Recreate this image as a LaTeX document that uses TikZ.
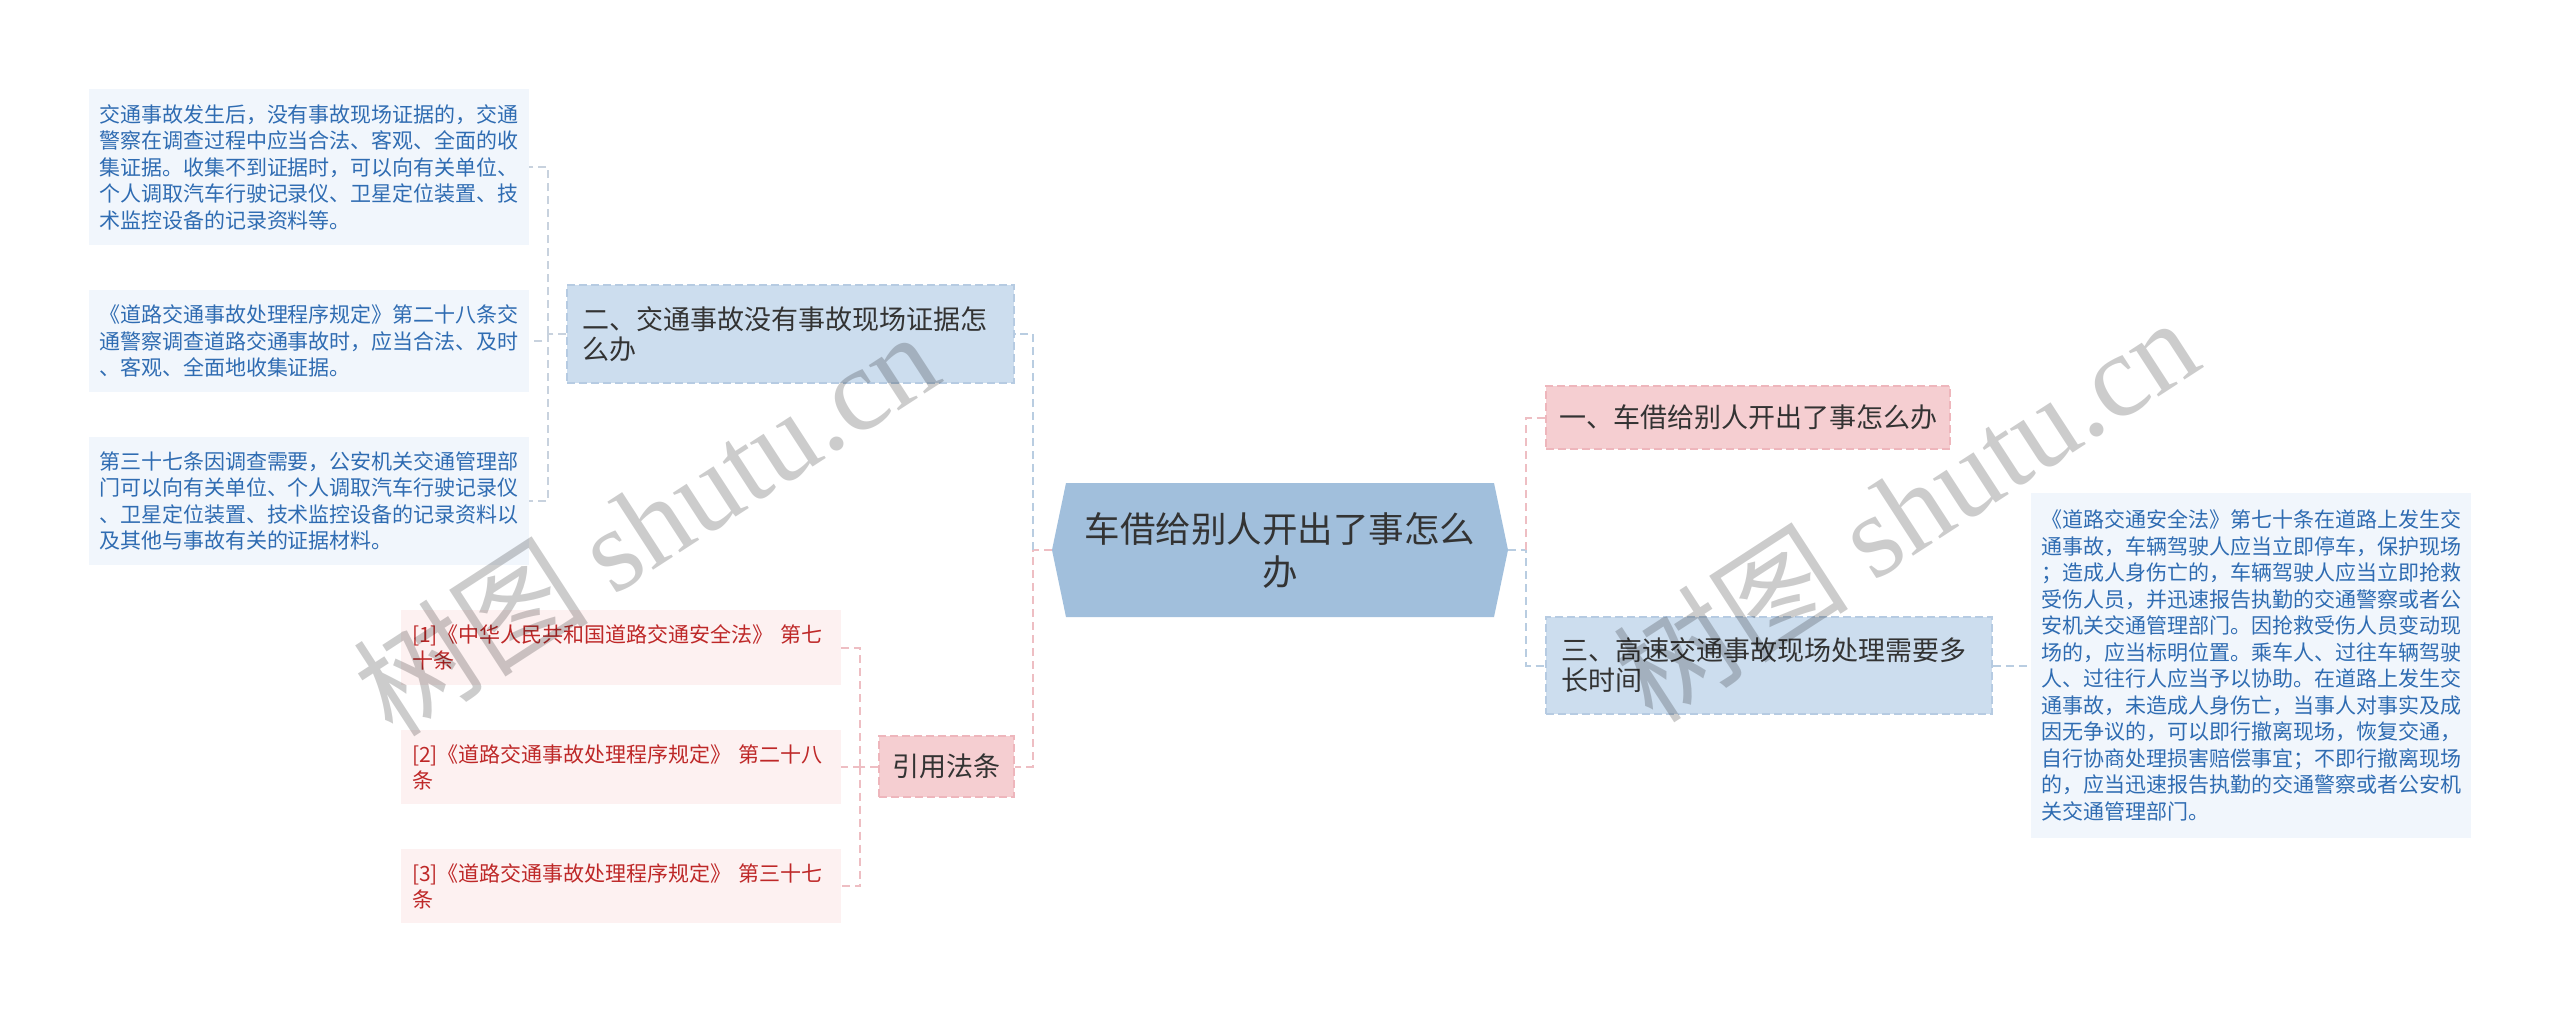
\documentclass[tikz,border=0pt]{standalone}
\usepackage{fontspec}
\setmainfont{Noto Sans CJK SC}
\newfontfamily\wmserif{Liberation Serif}
\definecolor{rootfill}{RGB}{161,191,220}
\definecolor{bluefill}{RGB}{204,221,238}
\definecolor{blueedge}{RGB}{182,203,226}
\definecolor{pinkfill}{RGB}{245,206,209}
\definecolor{pinkedge}{RGB}{238,182,188}
\definecolor{detfill}{RGB}{241,246,252}
\definecolor{dettext}{RGB}{47,108,178}
\definecolor{reffill}{RGB}{253,241,241}
\definecolor{reftext}{RGB}{190,40,40}
\definecolor{maintext}{RGB}{51,51,51}
\definecolor{pinkc}{RGB}{238,190,195}
\definecolor{bluec}{RGB}{185,205,225}
\definecolor{grayc}{RGB}{200,210,222}
\tikzset{
  conn/.style={dash pattern=on 8pt off 5pt, line width=2pt},
  lvlbox/.style={dash pattern=on 8pt off 4pt, line width=1.5pt, inner ysep=0pt,
    text=maintext, font=\fontsize{27pt}{30pt}\selectfont, align=left},
  bluelvl/.style={lvlbox, draw=blueedge, fill=bluefill},
  pinklvl/.style={lvlbox, draw=pinkedge, fill=pinkfill},
  detbox/.style={fill=detfill, text=dettext, font=\fontsize{21pt}{26.5pt}\selectfont,
    align=left, inner xsep=10pt, inner ysep=0pt, minimum width=440pt},
  refbox/.style={fill=reffill, text=reftext, font=\fontsize{21pt}{26pt}\selectfont,
    align=left, inner xsep=11pt, inner ysep=0pt, text width=418pt},
  wmark/.style={rotate=33, text=black, text opacity=0.2}
}
\begin{document}
\begin{tikzpicture}[x=1pt,y=-1pt]
\useasboundingbox (0,0) rectangle (2560,1014);
\fill[white] (0,0) rectangle (2560,1014);

% root hexagon
\fill[rootfill] (1052,550) -- (1066,483) -- (1494,483) -- (1508,550) -- (1494,617) -- (1066,617) -- cycle;
\node[minimum width=456pt, minimum height=134pt, inner sep=0pt, align=center, text=maintext,
  font=\fontsize{35.5pt}{43pt}\selectfont] (root) at (1280,550) {车借给别人开出了事怎么\\办};

% level 1
\node[pinklvl, inner xsep=13pt, minimum height=63pt] (n1) at (1748,417.5) {一、车借给别人开出了事怎么办};
\node[bluelvl, inner xsep=15pt, text width=416pt, minimum height=97pt] (n3) at (1769,665.5) {三、高速交通事故现场处理需要多\\长时间};
\node[bluelvl, inner xsep=15pt, text width=417pt, minimum height=98pt] (n2) at (790.5,334) {二、交通事故没有事故现场证据怎\\么办};
\node[pinklvl, inner xsep=13pt, minimum width=135pt, minimum height=61pt, align=center] (n4) at (946.5,766.5) {引用法条};

% details
\node[detbox, minimum height=156pt] (d1) at (309,167) {交通事故发生后，没有事故现场证据的，交通\\警察在调查过程中应当合法、客观、全面的收\\集证据。收集不到证据时，可以向有关单位、\\个人调取汽车行驶记录仪、卫星定位装置、技\\术监控设备的记录资料等。};
\node[detbox, minimum height=102pt] (d2) at (309,341) {《道路交通事故处理程序规定》第二十八条交\\通警察调查道路交通事故时，应当合法、及时\\、客观、全面地收集证据。};
\node[detbox, minimum height=128pt] (d3) at (309,501) {第三十七条因调查需要，公安机关交通管理部\\门可以向有关单位、个人调取汽车行驶记录仪\\、卫星定位装置、技术监控设备的记录资料以\\及其他与事故有关的证据材料。};
\node[detbox, minimum width=438pt, minimum height=345pt] (d4) at (2251,665.5) {《道路交通安全法》第七十条在道路上发生交\\通事故，车辆驾驶人应当立即停车，保护现场\\；造成人身伤亡的，车辆驾驶人应当立即抢救\\受伤人员，并迅速报告执勤的交通警察或者公\\安机关交通管理部门。因抢救受伤人员变动现\\场的，应当标明位置。乘车人、过往车辆驾驶\\人、过往行人应当予以协助。在道路上发生交\\通事故，未造成人身伤亡，当事人对事实及成\\因无争议的，可以即行撤离现场，恢复交通，\\自行协商处理损害赔偿事宜；不即行撤离现场\\的，应当迅速报告执勤的交通警察或者公安机\\关交通管理部门。};

% references
\node[refbox, minimum height=75pt] (r1) at (621,647.5) {[1]《中华人民共和国道路交通安全法》 第七\\十条};
\node[refbox, minimum height=74pt] (r2) at (621,767) {[2]《道路交通事故处理程序规定》 第二十八\\条};
\node[refbox, minimum height=74pt] (r3) at (621,886) {[3]《道路交通事故处理程序规定》 第三十七\\条};

% connectors
\coordinate (rbus) at (1526,550);
\coordinate (lbus) at (1033,550);
\coordinate (n2bus) at (548,334);
\coordinate (n4bus) at (860,766.5);
\draw[conn, bluec] (root.east) -- (rbus) |- (n3.west);
\draw[conn, pinkc] (rbus) |- (n1.west);
\draw[conn, pinkc] (root.west) -- (lbus) |- (n4.east);
\draw[conn, bluec] (lbus) |- (n2.east);
\draw[conn, grayc] (n2.west) -- (n2bus);
\draw[conn, grayc] (n2bus) |- (d1.east);
\draw[conn, grayc] (n2bus) |- (d2.east);
\draw[conn, grayc] (n2bus) |- (d3.east);
\draw[conn, pinkc] (n4.west) -- (n4bus);
\draw[conn, pinkc] (n4bus) |- (r1.east);
\draw[conn, pinkc] (n4bus) |- (r2.east);
\draw[conn, pinkc] (n4bus) |- (r3.east);
\draw[conn, bluec] (n3.east) -- (d4.west);

% watermarks
\node[wmark] (wm1) at (645,522) {\fontsize{118pt}{118pt}\selectfont 树图 {\wmserif shutu.cn}};
\node[wmark] (wm2) at (1905,508) {\fontsize{118pt}{118pt}\selectfont 树图 {\wmserif shutu.cn}};
\end{tikzpicture}
\end{document}
